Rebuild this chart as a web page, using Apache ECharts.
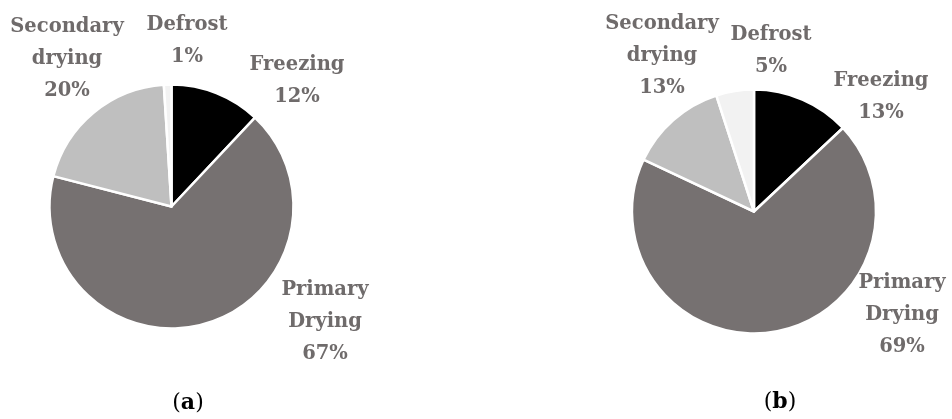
<!DOCTYPE html>
<html>
<head>
<meta charset="utf-8">
<script src="https://cdn.jsdelivr.net/npm/echarts@6/dist/echarts.min.js"></script>
<style>
html,body{margin:0;padding:0;background:#fff;}
#chart{width:952px;height:419px;}
</style>
</head>
<body>
<div id="chart"></div>
<script>
const categories = ['Freezing', 'Primary Drying', 'Secondary drying', 'Defrost'];
const valuesA = [12, 67, 20, 1];
const valuesB = [13, 69, 13, 5];
const sliceColors = ['#000000', '#767171', '#bfbfbf', '#f2f2f2'];
const captions = ['a', 'b'];

// label anchor points (text placement only)
const labelPosA = [[297, 81], [325, 322], [67, 59], [187, 41]];
const labelPosB = [[881, 97], [902, 315], [662, 56], [771, 51]];

const FONT = 'DejaVu Serif';

function labelText(name, value) {
  return name.replace(' ', '\n') + '\n' + value + '%';
}

function makeSeries(values, center, positions) {
  return {
    type: 'pie',
    center: center,
    radius: 122,
    startAngle: 90,
    clockwise: true,
    avoidLabelOverlap: false,
    silent: true,
    itemStyle: { borderColor: '#ffffff', borderWidth: 2.5 },
    label: {
      show: true,
      position: 'outside',
      formatter: p => labelText(p.name, p.value),
      fontFamily: FONT,
      fontWeight: 'bold',
      fontSize: 19.5,
      lineHeight: 32,
      color: '#6f6b6b',
      align: 'center'
    },
    labelLine: { show: false },
    labelLayout: function (params) {
      const pt = positions[params.dataIndex];
      return { x: pt[0], y: pt[1], align: 'center', verticalAlign: 'middle' };
    },
    emphasis: { disabled: true },
    data: categories.map((c, i) => ({
      name: c,
      value: values[i],
      itemStyle: { color: sliceColors[i] }
    }))
  };
}

const chart = echarts.init(document.getElementById('chart'), null, { renderer: 'canvas' });
chart.setOption({
  animation: false,
  backgroundColor: '#ffffff',
  series: [
    makeSeries(valuesA, [171.5, 206.5], labelPosA),
    makeSeries(valuesB, [754, 211.5], labelPosB)
  ],
  graphic: [
    {
      type: 'text', x: 188, y: 403,
      style: {
        text: '(' + '{b|' + captions[0] + '}' + ')',
        align: 'center', verticalAlign: 'middle',
        fontFamily: FONT, fontSize: 22, fill: '#000',
        rich: { b: { fontWeight: 'bold', fontFamily: FONT, fontSize: 22, fill: '#000' } }
      }
    },
    {
      type: 'text', x: 780, y: 402,
      style: {
        text: '(' + '{b|' + captions[1] + '}' + ')',
        align: 'center', verticalAlign: 'middle',
        fontFamily: FONT, fontSize: 22, fill: '#000',
        rich: { b: { fontWeight: 'bold', fontFamily: FONT, fontSize: 22, fill: '#000' } }
      }
    }
  ]
});
</script>
</body>
</html>
